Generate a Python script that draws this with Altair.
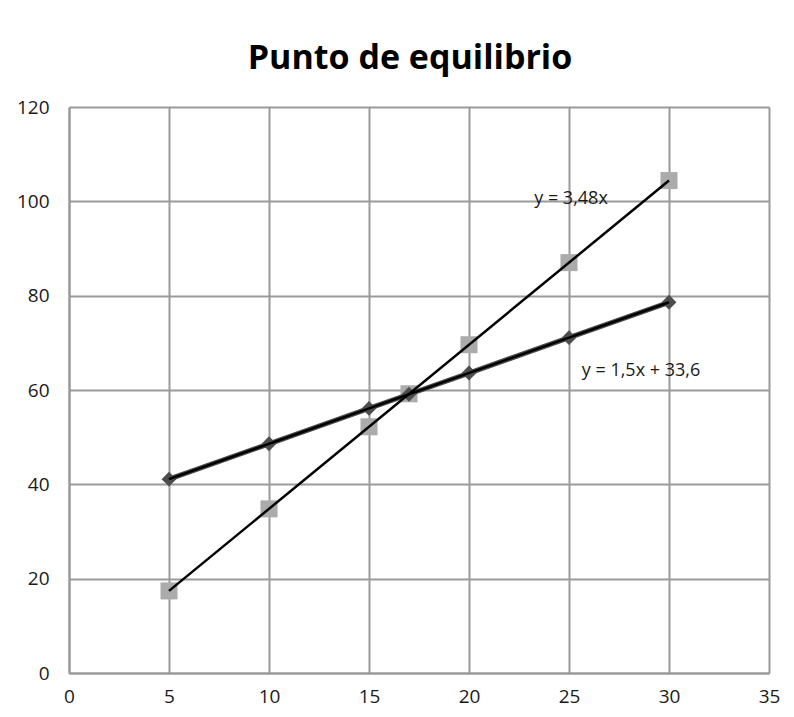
import altair as alt
import pandas as pd

x_vals = [5, 10, 15, 17, 20, 25, 30]
ingresos = [17.4, 34.8, 52.2, 59.2, 69.6, 87.0, 104.4]
costos = [41.1, 48.6, 56.1, 59.1, 63.6, 71.1, 78.6]

ann_text = ["y = 3,48x", "y = 1,5x + 33,6"]
ann_x = [25.1, 28.6]
ann_y = [100.4, 64.0]

df = pd.DataFrame({
    "x": x_vals * 2,
    "y": ingresos + costos,
    "serie": ["ingresos"] * len(x_vals) + ["costos"] * len(x_vals),
})
ann = pd.DataFrame({"t": ann_text, "x": ann_x, "y": ann_y})

FONT = "Open Sans"

xs = alt.Scale(domain=[0, 35], nice=False, zero=False)
ys = alt.Scale(domain=[0, 120], nice=False)
xax = alt.Axis(values=[0, 5, 10, 15, 20, 25, 30, 35], title=None, ticks=False,
               labelPadding=14, labelFontSize=19, labelFont=FONT, labelColor="#1a1a1a",
               grid=True, gridColor="#9a9a9a", gridWidth=2, domainColor="#9a9a9a",
               domainWidth=2, labelFlush=False)
yax = alt.Axis(values=[0, 20, 40, 60, 80, 100, 120], title=None, ticks=False,
               labelPadding=20, labelFontSize=19, labelFont=FONT, labelColor="#1a1a1a",
               grid=True, gridColor="#9a9a9a", gridWidth=2, domainColor="#9a9a9a",
               domainWidth=2, labelFlush=False)

base = alt.Chart(df)

sq = base.transform_filter(alt.datum.serie == "ingresos").mark_point(
    shape="square", filled=True, color="#ababab", size=290, opacity=1
).encode(x=alt.X("x:Q", scale=xs, axis=xax), y=alt.Y("y:Q", scale=ys, axis=yax))

dline = base.transform_filter(alt.datum.serie == "costos").mark_line(
    color="#4a4a4a", strokeWidth=5
).encode(x=alt.X("x:Q", scale=xs), y=alt.Y("y:Q", scale=ys))

dm = base.transform_filter(alt.datum.serie == "costos").mark_point(
    shape="diamond", filled=True, color="#4d4d4d", size=220, opacity=1
).encode(x=alt.X("x:Q", scale=xs), y=alt.Y("y:Q", scale=ys))

trend = base.transform_regression("x", "y", groupby=["serie"]).mark_line(
    color="#000000", strokeWidth=2.5
).encode(x=alt.X("x:Q", scale=xs), y=alt.Y("y:Q", scale=ys), detail="serie:N")

txt = alt.Chart(ann).mark_text(font=FONT, fontSize=18, color="#1a1a1a", align="center",
                               baseline="middle").encode(
    x=alt.X("x:Q", scale=xs), y=alt.Y("y:Q", scale=ys), text="t:N")

chart = alt.layer(sq, dline, dm, trend, txt).properties(
    width=700, height=566,
    autosize=alt.AutoSizeParams(type="none"),
    padding={"left": 61, "top": 99, "right": 17, "bottom": 36},
    title=alt.TitleParams("Punto de equilibrio", font=FONT, fontSize=34, fontWeight="bold",
                          color="#000", anchor="middle", offset=22, dx=-9),
).configure_view(stroke=None).configure(background="white")

chart.save("out.html", embed_options={"renderer": "svg", "actions": False})
